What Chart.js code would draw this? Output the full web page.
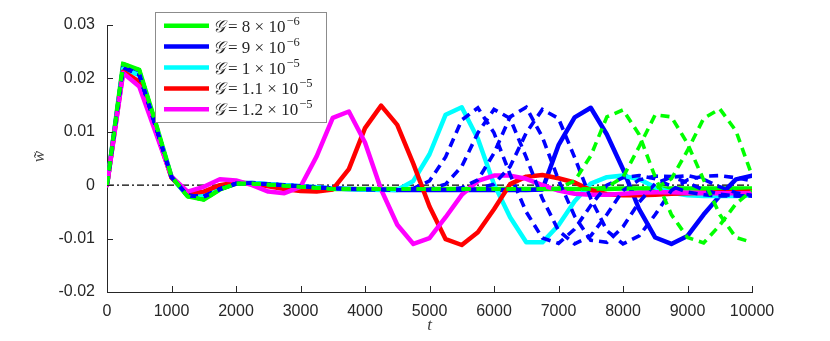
<!DOCTYPE html>
<html><head><meta charset="utf-8">
<script src="https://cdn.jsdelivr.net/npm/chart.js@4.4.0/dist/chart.umd.min.js"></script>
<style>html,body{margin:0;padding:0;background:#fff;}#wrap{width:830px;height:341px;}</style>
</head><body><div id="wrap"><canvas id="c" width="830" height="341"></canvas></div>
<script>
// ---- data ----
const t = [0,250,500,750,1000,1250,1500,1750,2000,2250,2500,2750,3000,3250,3500,3750,4000,4250,4500,4750,5000,
           5250,5500,5750,6000,6250,6500,6750,7000,7250,7500,7750,8000,8250,8500,8750,9000,9250,9500,9750,10000];
const xTicks = [0,1000,2000,3000,4000,5000,6000,7000,8000,9000,10000];
const xTickLabels = ['0','1000','2000','3000','4000','5000','6000','7000','8000','9000','10000'];
const yTicks = [-0.02,-0.01,0,0.01,0.02,0.03];
const yTickLabels = ['-0.02','-0.01','0','0.01','0.02','0.03'];
const legendMantissa = ['8','9','1','1.1','1.2'];
const legendExponent = ['\u22126','\u22126','\u22125','\u22125','\u22125'];

const g8 = [0,0.0227,0.0216,0.0118,0.0016,-0.0021,-0.0027,-0.0008,0.0003,0.0003,0.0001,-0.0001,-0.0003,-0.0005,-0.0007,-0.0007,-0.0007,-0.0007,-0.0007,-0.0007,-0.0007,
  -0.0007,-0.0007,-0.0007,-0.0007,-0.0007,-0.0007,-0.0007,-0.0007,-0.0007,-0.0007,-0.0007,-0.0006,-0.0006,-0.0006,-0.0006,-0.0006,-0.0006,-0.0006,-0.0006,-0.0006];
const g9 = [0,0.0221,0.0207,0.0112,0.0015,-0.0019,-0.0021,-0.0007,0.0003,0.0004,0.0002,0,-0.0002,-0.0004,-0.0006,-0.0007,-0.0008,-0.0008,-0.0009,-0.0009,-0.0009,
  -0.0009,-0.0009,-0.0009,-0.0009,-0.0009,-0.0009,-0.0008,0.0075,0.0127,0.0145,0.0095,0.0030,-0.0045,-0.0098,-0.0110,-0.0095,-0.0055,-0.0020,0.0011,0.0018];
const g10 = [0,0.0218,0.0206,0.0112,0.0015,-0.0019,-0.0019,-0.0005,0.0004,0.0004,0.0002,0,-0.0002,-0.0004,-0.0006,-0.0007,-0.0008,-0.0009,-0.0009,0.0008,0.0058,
  0.0132,0.0146,0.0087,0.0002,-0.0060,-0.0107,-0.0107,-0.0075,-0.0030,0.0003,0.0015,0.0018,0.0011,-0.0004,-0.0014,-0.0019,-0.0020,-0.0020,-0.0020,-0.0019];
const g11 = [0,0.0213,0.0194,0.0105,0.0014,-0.0016,-0.0012,0.0000,0.0005,0.0003,-0.0002,-0.0007,-0.0011,-0.0012,-0.0008,0.0030,0.0107,0.0149,0.0113,0.0040,-0.0040,
  -0.0101,-0.0112,-0.0088,-0.0045,0.0002,0.0016,0.0019,0.0013,0.0005,-0.0009,-0.0017,-0.0019,-0.0019,-0.0018,-0.0016,-0.0015,-0.0014,-0.0013,-0.0013,-0.0012];
const g12 = [0,0.0210,0.0185,0.0100,0.0016,-0.0012,-0.0003,0.0011,0.0009,0.0000,-0.0012,-0.0015,-0.0003,0.0054,0.0126,0.0138,0.0080,-0.0008,-0.0074,-0.0110,-0.0099,
  -0.0060,-0.0018,0.0008,0.0018,0.0018,0.0012,0.0000,-0.0010,-0.0016,-0.0018,-0.0018,-0.0016,-0.0014,-0.0013,-0.0013,-0.0014,-0.0015,-0.0015,-0.0015,-0.0015];
// dashed blue runs
const dashBlueA = [0,0.0221,0.0207,0.0112,0.0015,-0.0019,-0.0021,-0.0007,0.0003,0.0004,0.0002,0,-0.0002,-0.0004,-0.0006,-0.0007,-0.0008,-0.0008,-0.0009,-0.0006,0.0008,
  0.0053,0.0122,0.0145,0.0098,0.0020,-0.0050,-0.0099,-0.0109,-0.0082,-0.0038,0.0000,0.0014,0.0018,0.0012,-0.0002,-0.0013,-0.0018,-0.0020,-0.0020,-0.0020];
const dashBlueB = [0,0.0221,0.0207,0.0112,0.0015,-0.0019,-0.0021,-0.0007,0.0003,0.0004,0.0002,0,-0.0002,-0.0004,-0.0006,-0.0007,-0.0008,-0.0008,-0.0009,-0.0009,-0.0008,
  0.0002,0.0035,0.0098,0.0142,0.0125,0.0052,-0.0025,-0.0085,-0.0110,-0.0095,-0.0055,-0.0010,0.0010,0.0017,0.0016,0.0005,-0.0009,-0.0017,-0.0020,-0.0020];
const dashBlueC = [0,0.0221,0.0207,0.0112,0.0015,-0.0019,-0.0021,-0.0007,0.0003,0.0004,0.0002,0,-0.0002,-0.0004,-0.0006,-0.0007,-0.0008,-0.0008,-0.0009,-0.0009,-0.0009,
  -0.0009,-0.0005,0.0010,0.0060,0.0128,0.0146,0.0090,0.0010,-0.0058,-0.0103,-0.0107,-0.0078,-0.0032,0.0003,0.0015,0.0018,0.0011,-0.0003,-0.0014,-0.0019];
const dashBlueD = [0,0.0221,0.0207,0.0112,0.0015,-0.0019,-0.0021,-0.0007,0.0003,0.0004,0.0002,0,-0.0002,-0.0004,-0.0006,-0.0007,-0.0008,-0.0008,-0.0009,-0.0009,-0.0009,
  -0.0009,-0.0009,-0.0007,0.0002,0.0035,0.0098,0.0142,0.0125,0.0052,-0.0025,-0.0085,-0.0110,-0.0095,-0.0055,-0.0010,0.0010,0.0017,0.0018,0.0014,0.0008];
// dashed green runs
const dashGreenE = [0,0.0227,0.0216,0.0118,0.0016,-0.0021,-0.0027,-0.0008,0.0003,0.0003,0.0001,-0.0001,-0.0003,-0.0005,-0.0007,-0.0007,-0.0007,-0.0007,-0.0007,-0.0007,-0.0007,
  -0.0007,-0.0007,-0.0007,-0.0007,-0.0007,-0.0007,-0.0007,-0.0006,0.0008,0.0055,0.0128,0.0141,0.0095,0.0015,-0.0055,-0.0098,-0.0108,-0.0075,-0.0035,-0.0010];
const dashGreenF = [0,0.0227,0.0216,0.0118,0.0016,-0.0021,-0.0027,-0.0008,0.0003,0.0003,0.0001,-0.0001,-0.0003,-0.0005,-0.0007,-0.0007,-0.0007,-0.0007,-0.0007,-0.0007,-0.0007,
  -0.0007,-0.0007,-0.0007,-0.0007,-0.0007,-0.0007,-0.0007,-0.0007,-0.0007,-0.0007,-0.0004,0.0015,0.0072,0.0132,0.0128,0.0078,0.0010,-0.0055,-0.0098,-0.0107];
const dashGreenG = [0,0.0227,0.0216,0.0118,0.0016,-0.0021,-0.0027,-0.0008,0.0003,0.0003,0.0001,-0.0001,-0.0003,-0.0005,-0.0007,-0.0007,-0.0007,-0.0007,-0.0007,-0.0007,-0.0007,
  -0.0007,-0.0007,-0.0007,-0.0007,-0.0007,-0.0007,-0.0007,-0.0007,-0.0007,-0.0007,-0.0007,-0.0006,-0.0006,-0.0006,0.0012,0.0065,0.0125,0.0143,0.0102,0.0018];
const zeroT = [0,10000];
const zeroLine = [0,0];

const seriesNames = ['\uD835\uDCA2 = 8 \u00D7 10\u207B\u2076','\uD835\uDCA2 = 9 \u00D7 10\u207B\u2076','\uD835\uDCA2 = 1 \u00D7 10\u207B\u2075',
  '\uD835\uDCA2 = 1.1 \u00D7 10\u207B\u2075','\uD835\uDCA2 = 1.2 \u00D7 10\u207B\u2075'];

const pts = (xs, ys) => ys.map((v, i) => ({x: xs[i], y: v}));
const solid = (label, data, color, order) => ({label, data: pts(t, data), borderColor: color, borderWidth: 4.5, order,
  pointRadius: 0, tension: 0, fill: false, borderJoinStyle: 'round', borderCapStyle: 'round'});
const dashed = (label, data, color, order) => ({label, data: pts(t, data), borderColor: color, borderWidth: 3.6, order,
  borderDash: [9, 6], pointRadius: 0, tension: 0, fill: false, borderJoinStyle: 'miter', borderCapStyle: 'butt'});

const datasets = [
  solid(seriesNames[0], g8, '#00ff00', 50),
  solid(seriesNames[1], g9, '#0000ff', 49),
  solid(seriesNames[2], g10, '#00ffff', 48),
  solid(seriesNames[3], g11, '#ff0000', 47),
  solid(seriesNames[4], g12, '#ff00ff', 46),
  dashed('dashed 1', dashBlueA, '#0000ff', 13),
  dashed('dashed 2', dashBlueB, '#0000ff', 12),
  dashed('dashed 3', dashBlueC, '#0000ff', 11),
  dashed('dashed 4', dashBlueD, '#0000ff', 10),
  dashed('dashed 5', dashGreenE, '#00ff00', 7),
  dashed('dashed 6', dashGreenF, '#00ff00', 6),
  dashed('dashed 7', dashGreenG, '#00ff00', 5),
  {label: 'zero', data: pts(zeroT, zeroLine), borderColor: '#000', borderWidth: 1.3, borderDash: [7, 3, 2, 3],
   pointRadius: 0, order: 100, fill: false}
];

const AX = '#262626';
const decor = {
  id: 'decor',
  afterDraw(chart) {
    const ctx = chart.ctx, xs = chart.scales.x, ys = chart.scales.y, a = chart.chartArea;
    ctx.save();
    // inward tick marks
    ctx.strokeStyle = AX; ctx.lineWidth = 1;
    ctx.beginPath();
    xTicks.forEach(v => { const p = Math.round(xs.getPixelForValue(v)) + 0.5; ctx.moveTo(p, a.bottom); ctx.lineTo(p, a.bottom - 6); });
    yTicks.forEach(v => { const p = Math.round(ys.getPixelForValue(v)) + 0.5; ctx.moveTo(a.left, p); ctx.lineTo(a.left + 6, p); });
    ctx.stroke();
    // axis titles
    ctx.fillStyle = '#404040';
    ctx.font = 'italic 17px "Liberation Serif"';
    ctx.textAlign = 'center'; ctx.textBaseline = 'middle';
    ctx.fillText('t', (a.left + a.right) / 2, 326);
    ctx.save(); ctx.translate(40, (a.top + a.bottom) / 2 - 2); ctx.rotate(-Math.PI / 2);
    ctx.fillText('w\u0303', 0, 0); ctx.restore();
    // legend
    const bx = 155.5, by = 12.5, bw = 171, bh = 110;
    ctx.fillStyle = '#fff'; ctx.fillRect(bx, by, bw, bh);
    ctx.strokeStyle = '#8c8c8c'; ctx.lineWidth = 1; ctx.strokeRect(bx, by, bw, bh);
    const colors = ['#00ff00', '#0000ff', '#00ffff', '#ff0000', '#ff00ff'];
    for (let i = 0; i < 5; i++) {
      const yy = 25.7 + i * 20.9;
      ctx.strokeStyle = colors[i]; ctx.lineWidth = 4.5; ctx.lineCap = 'butt';
      ctx.beginPath(); ctx.moveTo(164, yy); ctx.lineTo(209, yy); ctx.stroke();
      ctx.fillStyle = '#262626'; ctx.textAlign = 'left'; ctx.textBaseline = 'alphabetic';
      ctx.font = 'italic 17px "DejaVu Serif", "Liberation Serif"';
      ctx.fillText('\uD835\uDCA2', 213, yy + 6);
      ctx.font = '17px "Liberation Serif"';
      const main = '= ' + legendMantissa[i] + ' \u00D7 10';
      ctx.fillText(main, 228, yy + 6);
      const w = ctx.measureText(main).width;
      ctx.font = '12.5px "Liberation Serif"';
      ctx.fillText(legendExponent[i], 228 + w + 1, yy - 1);
    }
    ctx.restore();
  }
};

new Chart(document.getElementById('c'), {
  type: 'line',
  data: {datasets},
  options: {
    responsive: false, animation: false, devicePixelRatio: 1,
    layout: {padding: {left: 0, right: 78, top: 25, bottom: 0}},
    plugins: {legend: {display: false}, tooltip: {enabled: false}},
    scales: {
      x: {type: 'linear', min: 0, max: 10000,
        afterBuildTicks: s => { s.ticks = xTicks.map(v => ({value: v})); },
        afterFit: s => { s.height = 49; },
        grid: {display: false, drawTicks: false},
        border: {display: true, color: AX, width: 1},
        ticks: {autoSkip: false, maxRotation: 0, padding: 10, color: AX,
          font: {family: '"Liberation Sans"', size: 16},
          callback: (v, i) => xTickLabels[i]}},
      y: {type: 'linear', min: -0.02, max: 0.03,
        afterBuildTicks: s => { s.ticks = yTicks.map(v => ({value: v})); },
        afterFit: s => { s.width = 107; },
        grid: {display: false, drawTicks: false},
        border: {display: true, color: AX, width: 1},
        ticks: {autoSkip: false, padding: 12, color: AX,
          font: {family: '"Liberation Sans"', size: 16},
          callback: (v, i) => yTickLabels[i]}}
    }
  },
  plugins: [decor]
});
</script></body></html>
